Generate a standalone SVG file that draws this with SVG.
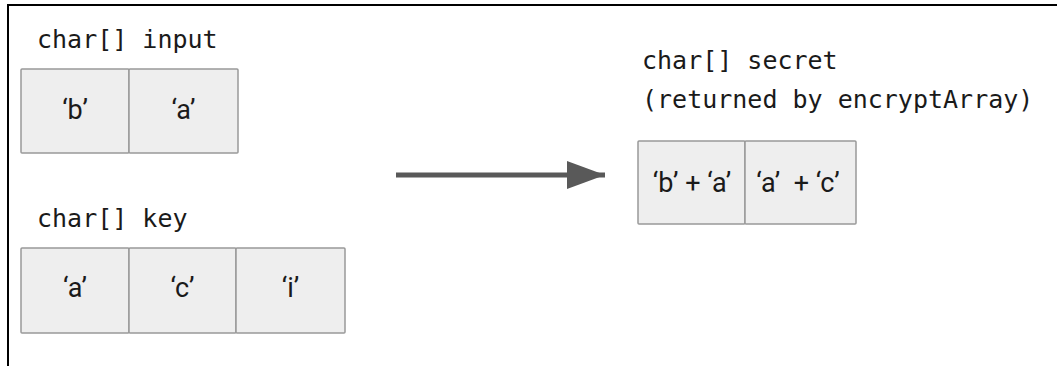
<svg xmlns="http://www.w3.org/2000/svg" width="1057" height="366" viewBox="0 0 1057 366">
<defs>
<style>
.cell{fill:#eeeeee;stroke:#999999;stroke-width:1.5}
.lbl{font-family:"DejaVu Sans Mono","Liberation Mono",monospace;font-size:25px;fill:#1a1a1a}
.val{font-family:Roboto,"Liberation Sans",sans-serif;font-size:27px;fill:#1a1a1a;text-anchor:middle}
</style>
<marker id="ah" markerUnits="userSpaceOnUse" markerWidth="40" markerHeight="30" refX="38" refY="14" orient="auto">
<path d="M0,0 L38,14 L0,28 Z" fill="#595959"/>
</marker>
</defs>
<rect width="1057" height="366" fill="#ffffff"/>
<path d="M8,366 V5 H1057" fill="none" stroke="#000000" stroke-width="2"/>
<g id="input">
<text class="lbl" x="37" y="48">char[] input</text>
<rect class="cell" x="21" y="69" width="108" height="84" rx="1"/>
<rect class="cell" x="129" y="69" width="109" height="84" rx="1"/>
<text class="val" x="75" y="119">‘b’</text>
<text class="val" x="183.5" y="119">‘a’</text>
</g>
<g id="key">
<text class="lbl" x="37" y="227">char[] key</text>
<rect class="cell" x="21" y="248" width="108" height="85" rx="1"/>
<rect class="cell" x="129" y="248" width="107" height="85" rx="1"/>
<rect class="cell" x="236" y="248" width="109" height="85" rx="1"/>
<text class="val" x="75" y="297">‘a’</text>
<text class="val" x="182.5" y="297">‘c’</text>
<text class="val" x="290.5" y="297">‘i’</text>
</g>
<g id="secret">
<text class="lbl" x="642" y="69">char[] secret</text>
<text class="lbl" x="642" y="108">(returned by encryptArray)</text>
<rect class="cell" x="638" y="141" width="107" height="83" rx="1"/>
<rect class="cell" x="745" y="141" width="111" height="83" rx="1"/>
<text class="val" x="692" y="192">‘b’ + ‘a’</text>
<text class="val" x="798" y="192" xml:space="preserve">‘a’  + ‘c’</text>
</g>
<g id="connectors">
<line x1="396" y1="175" x2="605" y2="175" stroke="#595959" stroke-width="5" marker-end="url(#ah)"/>
</g>
</svg>
